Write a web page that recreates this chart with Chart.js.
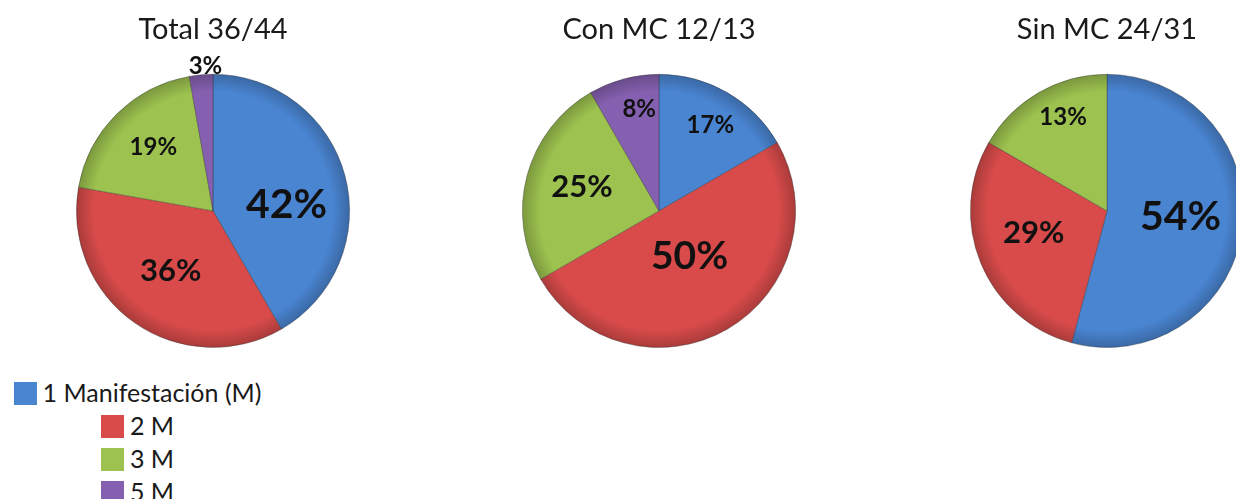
<!DOCTYPE html>
<html>
<head>
<meta charset="utf-8">
<script src="https://cdn.jsdelivr.net/npm/chart.js@4.4.0/dist/chart.umd.min.js"></script>
<style>
  html, body { margin: 0; padding: 0; background: #fff; overflow: hidden; width: 1236px; height: 499px; }
  .pie { position: absolute; top: 0; width: 440px; height: 348px; }
  #legend { position: absolute; left: 0; top: 376px; width: 275px; font: 25px Lato, sans-serif; color: #1a1a1a; text-align: center; }
  #legend div { height: 33px; line-height: 33px; white-space: nowrap; }
  #legend .box { display: inline-block; width: 23px; height: 23px; vertical-align: middle; margin-right: 6px; position: relative; top: -2px; }
</style>
</head>
<body>
<div class="pie" style="left:-7px"><canvas id="pieTotal"></canvas></div>
<div class="pie" style="left:439px"><canvas id="pieCon"></canvas></div>
<div class="pie" style="left:887px"><canvas id="pieSin"></canvas></div>
<div id="legend"></div>
<script>
const categories = ['1 Manifestación (M)', '2 M', '3 M', '5 M'];
const colors = ['#4a85d2', '#d84b4a', '#9dc24f', '#8560b0'];

// patients per group (slice sizes)
const totalCounts = [15, 13, 7, 1];
const conCounts = [2, 6, 3, 1];
const sinCounts = [13, 7, 4, 0];

// percentages as printed on the slices
const totalLabels = ['42%', '36%', '19%', '3%'];
const conLabels = ['17%', '50%', '25%', '8%'];
const sinLabels = ['54%', '29%', '13%', ''];

function shade(hex, f) {
    const n = parseInt(hex.slice(1), 16);
    const r = Math.round(((n >> 16) & 255) * f);
    const g = Math.round(((n >> 8) & 255) * f);
    const b = Math.round((n & 255) * f);
    return `rgb(${r},${g},${b})`;
}

// darker rim like the old office 3d look
function sliceFill(ctx) {
    const base = colors[ctx.dataIndex];
    const area = ctx.chart.chartArea;
    if (!area) return base;
    const cx = (area.left + area.right) / 2;
    const cy = (area.top + area.bottom) / 2;
    const r = Math.min(area.right - area.left, area.bottom - area.top) / 2;
    const g = ctx.chart.ctx.createRadialGradient(cx, cy, 0, cx, cy, r);
    g.addColorStop(0, base);
    g.addColorStop(0.87, base);
    g.addColorStop(1, shade(base, 0.78));
    return g;
}

const sliceLabels = {
    id: 'sliceLabels',
    afterDatasetsDraw(chart, args, opts) {
        const ctx = chart.ctx;
        const meta = chart.getDatasetMeta(0);
        ctx.save();
        ctx.fillStyle = '#111';
        ctx.textAlign = 'center';
        ctx.textBaseline = 'middle';
        meta.data.forEach((arc, i) => {
            const text = opts.text[i];
            if (!text) return;
            const p = arc.getProps(['x', 'y', 'startAngle', 'endAngle', 'outerRadius'], true);
            const a = (p.startAngle + p.endAngle) / 2 + opts.shift[i] * Math.PI / 180;
            const d = p.outerRadius * opts.dist[i];
            ctx.font = `bold ${opts.size[i]}px Lato, sans-serif`;
            ctx.fillText(text, p.x + Math.cos(a) * d, p.y + Math.sin(a) * d);
        });
        ctx.restore();
    }
};

function makePie(id, title, counts, labels, dist, shift, size) {
    return new Chart(document.getElementById(id), {
        type: 'pie',
        data: {
            labels: categories,
            datasets: [{
                data: counts,
                backgroundColor: sliceFill,
                borderColor: 'rgba(40,40,40,0.35)',
                borderWidth: 1
            }]
        },
        options: {
            responsive: true,
            maintainAspectRatio: false,
            animation: false,
            events: [],
            layout: { padding: 0 },
            plugins: {
                legend: { display: false },
                tooltip: { enabled: false },
                title: {
                    display: true,
                    text: title,
                    color: '#1a1a1a',
                    font: { family: 'Lato', size: 29, weight: 'normal' },
                    padding: { top: 12, bottom: 27 }
                },
                sliceLabels: { text: labels, dist: dist, shift: shift, size: size }
            }
        },
        plugins: [sliceLabels]
    });
}

makePie('pieTotal', 'Total 36/44', totalCounts, totalLabels,
    [0.54, 0.54, 0.64, 1.06], [10, 0, 2, 2], [41, 31, 24, 24]);
makePie('pieCon', 'Con MC 12/13', conCounts, conLabels,
    [0.73, 0.40, 0.59, 0.76], [1, -4, 2, 4], [24, 39, 31, 24]);
makePie('pieSin', 'Sin MC 24/31', sinCounts, sinLabels,
    [0.54, 0.56, 0.76, 0], [-3, 6, 5, 0], [41, 31, 24, 0]);

// legend rows, each centred like the original
const legend = document.getElementById('legend');
categories.forEach((name, i) => {
    const row = document.createElement('div');
    const box = document.createElement('span');
    box.className = 'box';
    box.style.background = colors[i];
    row.appendChild(box);
    row.appendChild(document.createTextNode(name));
    legend.appendChild(row);
});
</script>
</body>
</html>
